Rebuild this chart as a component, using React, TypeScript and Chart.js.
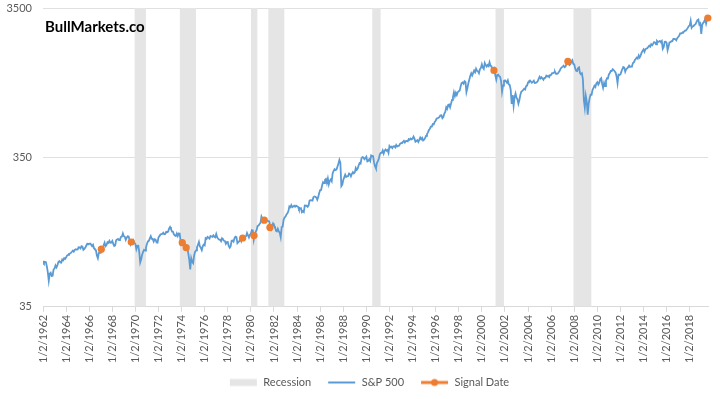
import React, { useEffect, useRef } from "react";
import { Chart, registerables } from "chart.js";
Chart.register(...registerables);

// ---------- DATA ----------
const START_YEAR = 1962;
const firstValue = 70.96; // 1/2/1962
// S&P 500 month-end levels (with visible intra-month extremes), Jan 1962 .. Jul 2019
const sp500Monthly: number[] = [
  68.84, 69.96, 69.55, 65.24, 59.63, 52.32, 58.23, 59.12, 56.27, 56.52, 62.26, 63.10,
  66.20, 64.29, 66.57, 69.80, 70.80, 69.37, 69.13, 72.50, 71.70, 74.01, 73.23, 75.02,
  77.04, 77.80, 78.98, 79.46, 80.37, 81.69, 83.18, 81.83, 84.18, 84.86, 84.42, 84.75,
  87.56, 87.43, 86.16, 89.11, 88.42, 84.12, 85.25, 87.17, 89.96, 92.42, 91.61, 92.43,
  92.88, 91.22, 89.23, 91.06, 86.13, 84.74, 83.60, 77.10, 74.00, 80.20, 80.45, 80.33,
  86.61, 86.78, 90.20, 94.01, 89.08, 90.64, 94.75, 93.64, 96.71, 93.90, 94.00, 96.47,
  92.24, 89.36, 90.20, 97.59, 98.68, 99.58, 97.74, 98.86, 102.67, 103.41, 108.37, 103.86,
  103.01, 98.13, 101.51, 103.69, 103.46, 97.71, 91.83, 95.51, 93.12, 97.24, 93.81, 92.06,
  85.02, 89.50, 89.63, 81.52, 69.29, 72.72, 78.05, 81.52, 84.21, 83.25, 87.20, 92.15,
  95.88, 96.75, 100.31, 103.95, 99.63, 99.70, 95.58, 99.03, 98.34, 94.23, 93.99, 102.09,
  103.94, 106.57, 107.20, 107.67, 109.53, 107.14, 107.39, 111.09, 110.55, 111.58, 116.67, 119.87,
  116.03, 111.68, 111.52, 106.97, 104.95, 104.26, 108.22, 104.25, 108.43, 108.29, 95.96, 97.55,
  96.57, 96.22, 93.98, 90.31, 87.28, 86.00, 79.31, 72.15, 62.28, 73.90, 69.97, 68.56,
  76.98, 81.59, 83.36, 87.30, 91.15, 95.19, 88.75, 86.88, 83.87, 89.04, 91.24, 90.19,
  100.86, 99.71, 102.77, 101.64, 100.18, 104.28, 103.44, 102.91, 105.24, 102.90, 102.10, 107.46,
  102.03, 99.82, 98.42, 98.44, 96.12, 100.48, 98.85, 96.77, 96.53, 92.34, 94.83, 95.10,
  89.25, 86.90, 89.21, 96.83, 97.24, 95.53, 100.68, 103.29, 102.54, 93.15, 94.70, 96.11,
  99.93, 96.28, 101.59, 101.76, 99.08, 102.91, 103.81, 109.32, 109.32, 101.82, 106.16, 107.94,
  114.16, 113.66, 98.22, 106.29, 111.24, 114.24, 121.67, 122.38, 125.46, 127.47, 140.52, 135.76,
  129.55, 131.27, 136.00, 132.81, 132.59, 131.21, 130.92, 122.79, 116.18, 121.89, 126.35, 122.55,
  120.40, 113.11, 111.96, 116.44, 111.88, 109.61, 102.42, 119.51, 120.42, 133.71, 138.54, 140.64,
  145.30, 148.06, 152.96, 164.42, 162.39, 167.64, 162.56, 164.40, 166.07, 163.55, 166.40, 164.93,
  163.41, 157.06, 159.18, 160.05, 150.55, 153.18, 150.66, 166.68, 166.10, 166.09, 163.58, 167.24,
  179.63, 181.18, 180.66, 179.83, 189.55, 191.85, 190.92, 188.63, 182.08, 189.82, 202.17, 211.28,
  211.78, 226.92, 238.90, 235.52, 247.35, 250.84, 236.12, 252.93, 231.32, 243.98, 249.22, 242.17,
  274.08, 284.20, 291.70, 288.36, 290.10, 304.00, 318.66, 336.77, 321.83, 224.84, 230.30, 247.08,
  257.07, 267.82, 258.89, 261.33, 262.16, 273.50, 272.02, 261.52, 271.91, 278.97, 273.70, 277.72,
  297.47, 288.86, 294.87, 309.64, 320.52, 317.98, 346.08, 351.45, 349.15, 340.36, 345.99, 353.40,
  329.08, 331.89, 339.94, 330.80, 361.23, 358.02, 356.15, 322.56, 306.05, 295.46, 322.22, 330.22,
  343.93, 367.07, 375.22, 375.35, 389.83, 371.16, 387.81, 395.43, 387.86, 392.45, 375.22, 417.09,
  408.79, 412.70, 403.69, 414.95, 415.35, 408.14, 424.21, 414.03, 417.80, 418.68, 431.35, 435.71,
  438.78, 443.38, 451.67, 440.19, 450.19, 450.53, 448.13, 463.56, 458.93, 467.83, 461.79, 466.45,
  481.61, 467.14, 445.77, 450.91, 456.50, 444.27, 458.26, 475.49, 462.69, 472.35, 453.69, 459.27,
  470.42, 487.39, 500.71, 514.71, 533.40, 544.75, 562.06, 561.88, 584.41, 581.50, 605.37, 615.93,
  636.02, 640.43, 645.50, 654.17, 669.12, 670.63, 639.95, 651.99, 687.31, 705.27, 757.02, 740.74,
  786.16, 790.82, 757.12, 801.34, 848.28, 885.14, 954.29, 899.47, 947.28, 914.62, 955.40, 970.43,
  980.28, 1049.34, 1101.75, 1111.75, 1090.82, 1133.84, 1120.67, 957.28, 1017.01, 1098.67, 1163.63, 1229.23,
  1279.64, 1238.33, 1286.37, 1335.18, 1301.84, 1372.71, 1328.72, 1320.41, 1282.71, 1362.93, 1388.91, 1469.25,
  1394.46, 1366.42, 1498.58, 1452.43, 1420.60, 1454.60, 1430.83, 1517.68, 1436.51, 1429.40, 1314.95, 1320.28,
  1366.01, 1239.94, 1160.33, 1249.46, 1255.82, 1224.42, 1211.23, 1133.58, 965.80, 1059.78, 1139.45, 1148.08,
  1130.20, 1106.73, 1147.39, 1076.92, 1067.14, 989.82, 797.70, 916.07, 776.76, 885.76, 936.31, 879.82,
  855.70, 800.73, 848.18, 916.92, 963.59, 974.50, 990.31, 1008.01, 995.97, 1050.71, 1058.20, 1111.92,
  1131.13, 1144.94, 1126.21, 1107.30, 1120.68, 1140.84, 1101.72, 1104.24, 1114.58, 1130.20, 1173.82, 1211.92,
  1181.27, 1203.60, 1180.59, 1156.85, 1191.50, 1191.33, 1234.18, 1220.33, 1228.81, 1207.01, 1249.48, 1248.29,
  1280.08, 1280.66, 1294.83, 1310.61, 1270.09, 1270.20, 1276.66, 1303.82, 1335.85, 1377.94, 1400.63, 1418.30,
  1438.24, 1406.82, 1420.86, 1482.37, 1530.62, 1503.35, 1455.27, 1473.99, 1526.75, 1565.15, 1481.14, 1468.36,
  1378.55, 1330.63, 1322.70, 1385.59, 1400.38, 1280.00, 1267.38, 1282.83, 1166.36, 848.92, 752.44, 903.25,
  825.88, 676.53, 797.87, 872.81, 919.14, 919.32, 987.48, 1020.62, 1057.08, 1036.19, 1095.63, 1115.10,
  1073.87, 1104.49, 1169.43, 1186.69, 1089.41, 1022.58, 1101.60, 1049.33, 1141.20, 1183.26, 1180.55, 1257.64,
  1286.12, 1327.22, 1325.83, 1363.61, 1345.20, 1320.64, 1292.28, 1218.89, 1099.23, 1253.30, 1246.96, 1257.60,
  1312.41, 1365.68, 1408.47, 1397.91, 1310.33, 1362.16, 1379.32, 1406.58, 1440.67, 1412.16, 1416.18, 1426.19,
  1498.11, 1514.68, 1569.19, 1597.57, 1630.74, 1606.28, 1685.73, 1632.97, 1681.55, 1756.54, 1805.81, 1848.36,
  1782.59, 1859.45, 1872.34, 1883.95, 1923.57, 1960.23, 1930.67, 2003.37, 1972.29, 2018.05, 2067.56, 2058.90,
  1994.99, 2104.50, 2067.89, 2085.51, 2107.39, 2063.11, 2103.84, 1867.61, 1920.03, 2079.36, 2080.41, 2043.94,
  1829.08, 1932.23, 2059.74, 2065.30, 2096.95, 2098.86, 2173.60, 2170.95, 2168.27, 2126.15, 2198.81, 2238.83,
  2278.87, 2363.64, 2362.72, 2384.20, 2411.80, 2423.41, 2470.30, 2471.65, 2519.36, 2575.26, 2647.58, 2673.61,
  2872.87, 2581.00, 2640.87, 2648.05, 2705.27, 2718.37, 2816.29, 2901.52, 2930.75, 2711.74, 2760.17, 2351.10,
  2704.10, 2784.49, 2834.40, 2945.83, 2752.06, 2941.76, 3025.86,
];

// NBER recessions (first month, last month)
const recessionStart = ["1969-12", "1973-11", "1980-01", "1981-07", "1990-07", "2001-03", "2007-12"];
const recessionEnd = ["1970-11", "1975-03", "1980-07", "1982-11", "1991-03", "2001-11", "2009-06"];

// Signal dates (fractional year) and S&P level
const signalYears = [1967.05, 1969.64, 1974.06, 1974.4, 1979.29, 1980.27, 1981.16, 1981.65, 2001.05, 2007.45, 2019.57];
const signalValues = [85, 95, 94, 87, 101, 105, 133, 119, 1337, 1536, 3000];

const xTickYears = [1962, 1964, 1966, 1968, 1970, 1972, 1974, 1976, 1978, 1980, 1982, 1984, 1986, 1988, 1990,
  1992, 1994, 1996, 1998, 2000, 2002, 2004, 2006, 2008, 2010, 2012, 2014, 2016, 2018];
const yTickValues = [35, 350, 3500];

const seriesNames = ["Recession", "S&P 500", "Signal Date"];

// ---------- HELPERS ----------
const ym = (s: string) => {
  const [y, m] = s.split("-").map(Number);
  return { y, m };
};
const FONT = "Lato, 'Open Sans', sans-serif";

// legend swatch: 34px wide canvas, swatch drawn on the right 27px
function legendImg(kind: "rect" | "line" | "dot", color: string) {
  const c = document.createElement("canvas");
  c.width = 34;
  c.height = 10;
  const g = c.getContext("2d")!;
  const x0 = 6;
  const x1 = 33;
  if (kind === "rect") {
    g.fillStyle = color;
    g.fillRect(x0, 1.5, x1 - x0, 7);
  } else {
    g.strokeStyle = color;
    g.lineWidth = kind === "dot" ? 3 : 2;
    g.beginPath();
    g.moveTo(x0, 5);
    g.lineTo(x1, 5);
    g.stroke();
    if (kind === "dot") {
      g.fillStyle = color;
      g.beginPath();
      g.arc((x0 + x1) / 2, 5, 3.5, 0, Math.PI * 2);
      g.fill();
    }
  }
  return c;
}

const brandPlugin = {
  id: "brand",
  afterDraw(chart: any) {
    const { ctx, chartArea } = chart;
    ctx.save();
    ctx.font = `bold 15px ${FONT}`;
    ctx.fillStyle = "#000000";
    ctx.textBaseline = "alphabetic";
    ctx.fillText("BullMarkets.co", chartArea.left + 2, chartArea.top + 24);
    ctx.restore();
  },
};

export default function App() {
  const ref = useRef<HTMLCanvasElement | null>(null);

  useEffect(() => {
    document.body.style.margin = "0";
    if (!ref.current) return;

    const BLUE = "#5b9bd5";
    const ORANGE = "#ed7d31";
    const GRAY = "#e5e5e5";

    // widest y label, for right-aligned mirrored labels
    const mctx = document.createElement("canvas").getContext("2d")!;
    mctx.font = `11px ${FONT}`;
    const widest = Math.max(...yTickValues.map((v) => mctx.measureText(String(v)).width));

    const spData = [{ x: START_YEAR, y: firstValue }].concat(
      sp500Monthly.map((v, i) => ({ x: START_YEAR + (i + 1) / 12, y: v }))
    );
    const xMax = spData[spData.length - 1].x;

    const recData: any[] = [];
    recessionStart.forEach((s, i) => {
      const a = ym(s);
      const b = ym(recessionEnd[i]);
      const x0 = a.y + (a.m - 1) / 12;
      const x1 = b.y + b.m / 12;
      recData.push({ x: x0, y: 3500 }, { x: x1, y: 3500 }, { x: x1, y: null });
    });

    const sigData = signalYears.map((x, i) => ({ x, y: signalValues[i] }));

    const imgs = [legendImg("rect", GRAY), legendImg("line", BLUE), legendImg("dot", ORANGE)];

    const chart = new Chart(ref.current, {
      type: "line",
      data: {
        datasets: [
          {
            label: seriesNames[0],
            data: recData,
            fill: "start",
            backgroundColor: GRAY,
            borderColor: GRAY,
            borderWidth: 0,
            pointRadius: 0,
            spanGaps: false,
            order: 3,
          },
          {
            label: seriesNames[1],
            data: spData,
            borderColor: BLUE,
            borderWidth: 1.8,
            pointRadius: 0,
            fill: false,
            tension: 0,
            order: 2,
          },
          {
            label: seriesNames[2],
            data: sigData,
            showLine: false,
            borderColor: ORANGE,
            backgroundColor: ORANGE,
            pointRadius: 3.6,
            pointBorderWidth: 0,
            clip: false,
            order: 1,
          },
        ],
      } as any,
      options: {
        animation: false,
        responsive: false,
        events: [],
        layout: { padding: { left: 25, right: 12, top: 8, bottom: 1 } },
        scales: {
          x: {
            type: "linear",
            min: START_YEAR,
            max: xMax,
            afterBuildTicks: (scale: any) => {
              scale.ticks = xTickYears.map((v) => ({ value: v }));
            },
            ticks: {
              autoSkip: false,
              maxRotation: 90,
              minRotation: 90,
              padding: 3,
              color: "#595959",
              font: { family: FONT, size: 11 },
              callback: (v: any) => `1/2/${v}`,
            },
            grid: { drawOnChartArea: false, drawTicks: true, tickLength: 5, color: "#d9d9d9" },
            border: { display: true, color: "#d9d9d9" },
          },
          y: {
            type: "logarithmic",
            min: 35,
            max: 3500,
            afterBuildTicks: (scale: any) => {
              scale.ticks = yTickValues.map((v) => ({ value: v }));
            },
            afterFit: (scale: any) => {
              scale.width = 18;
            },
            ticks: {
              mirror: true,
              crossAlign: "far",
              padding: -(11 + widest),
              color: "#595959",
              font: { family: FONT, size: 11 },
              callback: (v: any) => String(v),
            },
            grid: { color: "#e0e0e0", drawTicks: false },
            border: { display: false },
          },
        },
        plugins: {
          tooltip: { enabled: false },
          legend: {
            position: "bottom",
            labels: {
              usePointStyle: true,
              pointStyleWidth: 34,
              padding: 11,
              color: "#595959",
              font: { family: FONT, size: 11 },
              generateLabels: () =>
                seriesNames.map((t, i) => ({
                  text: t,
                  pointStyle: imgs[i],
                  fillStyle: "rgba(0,0,0,0)",
                  strokeStyle: "rgba(0,0,0,0)",
                  lineWidth: 0,
                  fontColor: "#595959",
                  hidden: false,
                  datasetIndex: i,
                })),
            },
          },
        },
      } as any,
      plugins: [brandPlugin],
    });

    return () => chart.destroy();
  }, []);

  return (
    <div style={{ width: 720, height: 399, position: "relative" }}>
      <canvas ref={ref} width={720} height={399} style={{ display: "block" }} />
    </div>
  );
}
